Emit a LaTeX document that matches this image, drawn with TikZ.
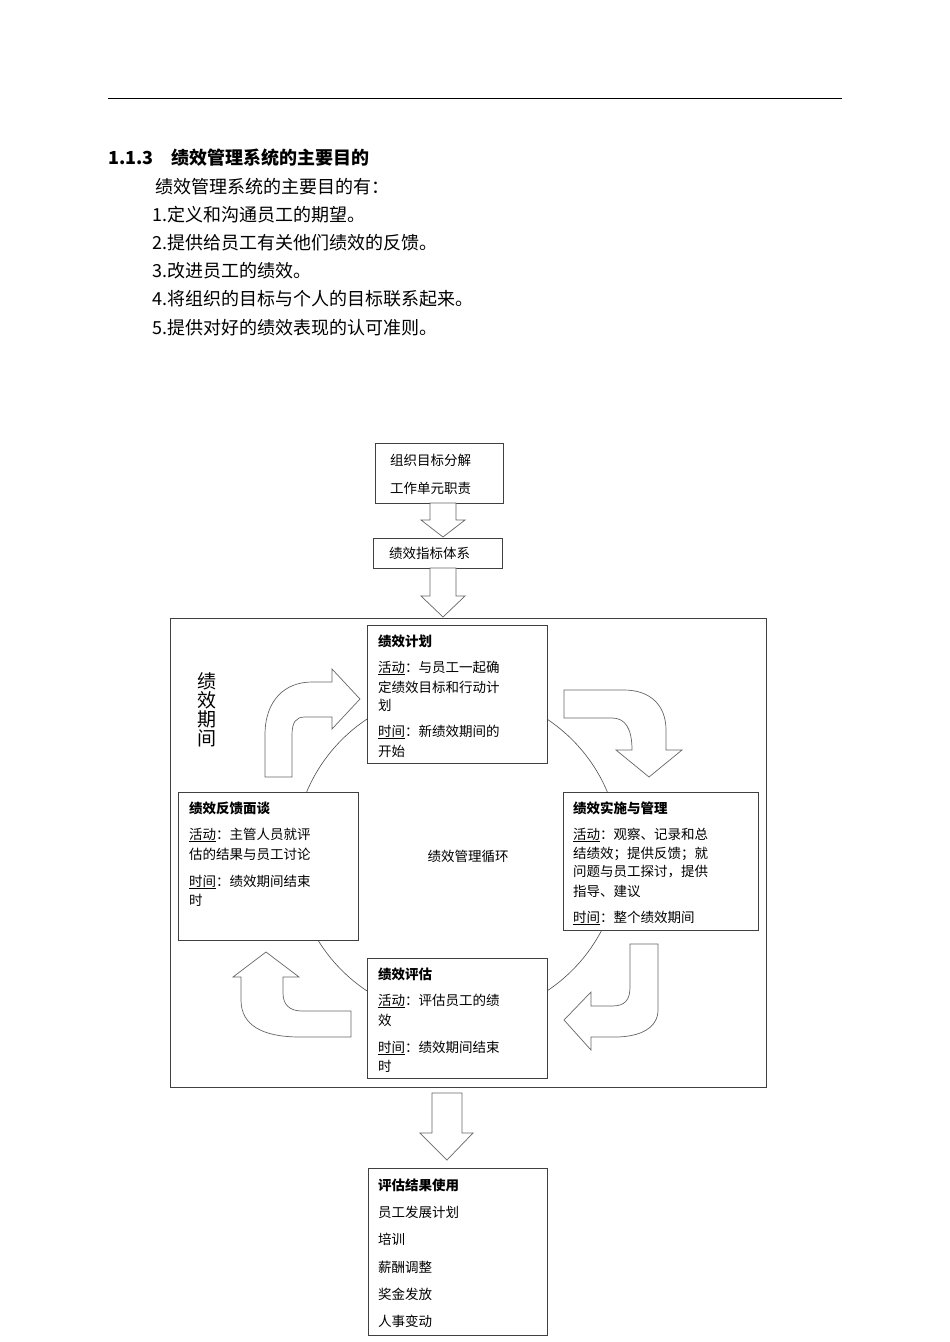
\documentclass[tikz,border=0pt]{standalone}
\usepackage{fontspec}
\setmainfont{Noto Sans CJK SC}
\newfontfamily\cjk{Noto Sans CJK SC}
\begin{document}
\begin{tikzpicture}[x=1pt,y=-1pt,
 box/.style={draw=black!75,fill=white,line width=0.8pt},
 blk/.style={draw=black!60,fill=white,line width=0.7pt},
 body/.style={anchor=west,inner sep=0pt,font=\fontsize{18}{22}\selectfont},
 dt/.style={anchor=west,inner sep=0pt,font=\fontsize{13.5}{16}\selectfont},
 dtb/.style={anchor=west,inner sep=0pt,font=\fontsize{13.5}{16}\selectfont\bfseries}]
\useasboundingbox[fill=white] (0,0) rectangle (950,1342);
\draw[line width=1pt] (108,98) -- (842,98);
\node[body,font=\fontsize{18}{22}\selectfont\bfseries] (h) at (108,158) {1.1.3\quad 绩效管理系统的主要目的};
\node[body] (l0) at (155,187) {绩效管理系统的主要目的有：};
\node[body] (l1) at (152,215) {1.定义和沟通员工的期望。};
\node[body] (l2) at (152,243) {2.提供给员工有关他们绩效的反馈。};
\node[body] (l3) at (152,271) {3.改进员工的绩效。};
\node[body] (l4) at (152,299) {4.将组织的目标与个人的目标联系起来。};
\node[body] (l5) at (152,328) {5.提供对好的绩效表现的认可准则。};
% top boxes
\draw[box] (375,443) rectangle (503,503);
\node[dt] (t1) at (390,460) {组织目标分解};
\node[dt] (t2) at (390,488) {工作单元职责};
\draw[blk] (430,503)--(456,503)--(456,520)--(465,520)--(443,537)--(421,520)--(430,520)--cycle;
\draw[box] (373,538) rectangle (502,568);
\node[dt] (t3) at (389,553) {绩效指标体系};
\draw[blk] (430,568)--(456,568)--(456,596)--(465,596)--(443,617)--(421,596)--(430,596)--cycle;
% frame
\draw[box] (170,618) rectangle (766,1087);
\node[inner sep=0pt,font=\fontsize{19}{22}\selectfont,align=center] (v) at (207,710) {绩\\[-3pt]效\\[-3pt]期\\[-3pt]间};
% cycle circle
\draw[black!70,line width=0.6pt] (457,855) circle (163);
% curved arrows
\draw[blk] (265,777) -- (265,735) .. controls (265,700) and (285,682) .. (312,682) -- (332,682) -- (332,669) -- (360,699) -- (332,729) -- (332,717) -- (305,717) .. controls (296,717) and (292,722) .. (292,735) -- (292,777) -- cycle;
\draw[blk] (564,690) -- (624,690) .. controls (650,690) and (666,705) .. (666,730) -- (666,750) -- (682,750) -- (649,777) -- (616,750) -- (632,750) .. controls (632,728) and (625,718) .. (612,718) -- (564,718) -- cycle;
\draw[blk] (630,944) -- (658,944) -- (658,1010) .. controls (658,1028) and (640,1037) .. (615,1037) -- (591,1037) -- (591,1050) -- (564,1020) -- (591,992) -- (591,1006) -- (612,1006) .. controls (625,1006) and (630,1000) .. (630,987) -- cycle;
\draw[blk] (351,1037) -- (300,1037) .. controls (262,1037) and (241,1025) .. (241,1000) -- (241,977) -- (233,977) -- (266,952) -- (299,977) -- (283,977) -- (283,993) .. controls (283,1005) and (290,1011) .. (302,1011) -- (351,1011) -- cycle;
% boxes
\draw[box] (367,625) rectangle (547,763);
\node[dtb] (p0) at (378,641) {绩效计划};
\node[dt] (p1) at (378,668) {\underline{活动}：与员工一起确};
\node[dt] (p2) at (378,687) {定绩效目标和行动计};
\node[dt] (p3) at (378,705) {划};
\node[dt] (p4) at (378,732) {\underline{时间}：新绩效期间的};
\node[dt] (p5) at (378,751) {开始};
\draw[box] (178,792) rectangle (358,940);
\node[dtb] (f0) at (189,808) {绩效反馈面谈};
\node[dt] (f1) at (189,835) {\underline{活动}：主管人员就评};
\node[dt] (f2) at (189,854) {估的结果与员工讨论};
\node[dt] (f3) at (189,882) {\underline{时间}：绩效期间结束};
\node[dt] (f4) at (189,900) {时};
\draw[box] (563,792) rectangle (758,930);
\node[dtb] (s0) at (573,808) {绩效实施与管理};
\node[dt] (s1) at (573,835) {\underline{活动}：观察、记录和总};
\node[dt] (s2) at (573,854) {结绩效；提供反馈；就};
\node[dt] (s3) at (573,872) {问题与员工探讨，提供};
\node[dt] (s4) at (573,891) {指导、建议};
\node[dt] (s5) at (573,918) {\underline{时间}：整个绩效期间};
\draw[box] (367,958) rectangle (547,1078);
\node[dtb] (e0) at (378,974) {绩效评估};
\node[dt] (e1) at (378,1001) {\underline{活动}：评估员工的绩};
\node[dt] (e2) at (378,1020) {效};
\node[dt] (e3) at (378,1048) {\underline{时间}：绩效期间结束};
\node[dt] (e4) at (378,1066) {时};
\node[dt,anchor=center] (c) at (468,856) {绩效管理循环};
% bottom arrow and box
\draw[blk] (432,1093)--(462,1093)--(462,1133)--(473,1133)--(447,1160)--(420,1133)--(432,1133)--cycle;
\draw[box] (368,1168) rectangle (547,1335);
\node[dtb] (r0) at (378,1185) {评估结果使用};
\node[dt] (r1) at (378,1212) {员工发展计划};
\node[dt] (r2) at (378,1239) {培训};
\node[dt] (r3) at (378,1267) {薪酬调整};
\node[dt] (r4) at (378,1294) {奖金发放};
\node[dt] (r5) at (378,1321) {人事变动};
\end{tikzpicture}
\end{document}
